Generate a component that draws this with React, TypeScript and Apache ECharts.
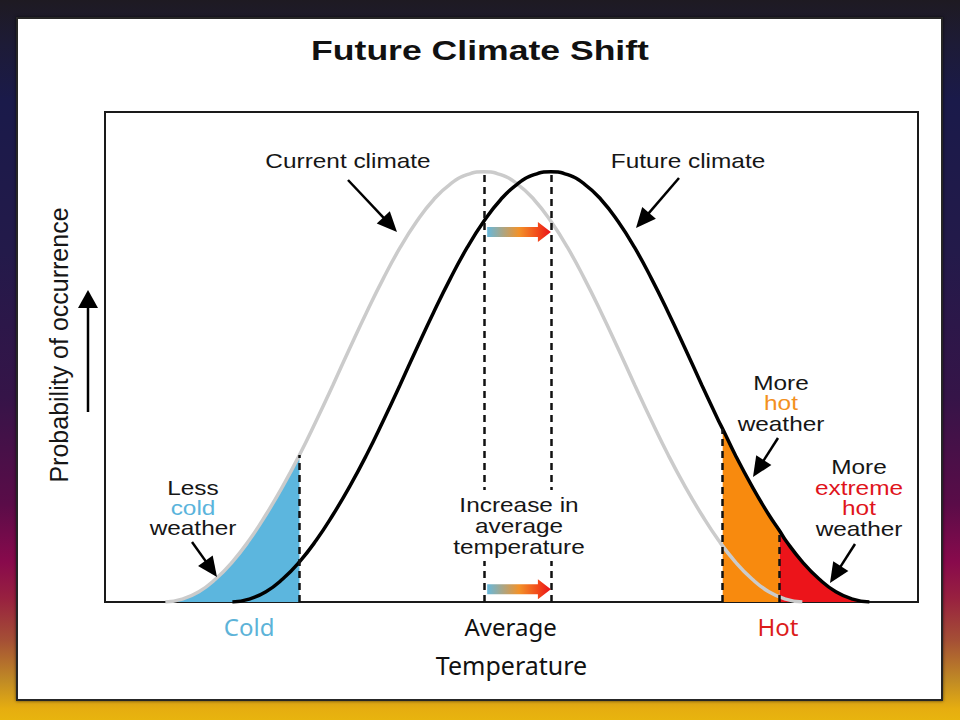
import React, { useEffect, useRef } from "react";
import * as echarts from "echarts";

// Current climate curve (grey)
const currentTemp = [-38, -36, -34, -32, -30, -28, -26, -24, -22, -20, -18, -16, -14, -12, -10, -8, -6, -4, -2, 0, 2, 4, 6, 8, 10, 12, 14, 16, 18, 20, 22, 24, 26, 28, 30, 32, 34, 36, 38];
const currentProb = [0, 0.6, 2.1, 4.7, 8.2, 12.6, 17.8, 23.6, 30.0, 37.0, 44.3, 51.8, 59.1, 66.0, 72.3, 77.7, 82.1, 85.3, 87.2, 87.8, 87.2, 85.3, 82.1, 77.7, 72.3, 66.0, 59.1, 51.8, 44.3, 37.0, 30.0, 23.6, 17.8, 12.6, 8.2, 4.7, 2.1, 0.6, 0];

// Future climate curve (black)
const futureTemp = [-30, -28, -26, -24, -22, -20, -18, -16, -14, -12, -10, -8, -6, -4, -2, 0, 2, 4, 6, 8, 10, 12, 14, 16, 18, 20, 22, 24, 26, 28, 28.5, 30, 32, 34, 35.3, 36, 38, 40, 42, 44, 46];
const futureProb = [0, 0.6, 2.1, 4.7, 8.2, 12.6, 17.8, 23.6, 30.0, 37.0, 44.3, 51.8, 59.1, 66.0, 72.3, 77.7, 82.1, 85.3, 87.2, 87.8, 87.2, 85.3, 82.1, 77.7, 72.3, 66.0, 59.1, 51.8, 44.3, 37.0, 35.3, 30.0, 23.6, 17.8, 14.5, 12.6, 8.2, 4.7, 2.1, 0.6, 0];

const coldLimit = -22;
const hotLimit = 28.5;
const extremeLimit = 35.3;
const currentMean = 0;
const futureMean = 8;
const shiftArrowLevels = [75.5, 2.6];
const shiftArrowStart = 0.4;

const tickValues = [-28, 3.2, 35.1];
const tickNames = ["Cold", "Average", "Hot"];
const tickStyles = ["cold", "avg", "hot"];

const pairs = (t: number[], p: number[]) => t.map((x, i) => [x, p[i]]);
const probAt = (t: number[], p: number[], x: number) => p[t.indexOf(x)];

const FONT = '"Liberation Sans", Arial, sans-serif';
const LABEL_FONT = '"Noto Sans", sans-serif';

function txt(text: string, x: number, y: number, color = "#161616", size = 20, weight = "normal", sx = 1.22) {
  return {
    type: "text",
    x,
    y,
    scaleX: sx,
    z: 100,
    silent: true,
    style: {
      text,
      fill: color,
      font: `${weight} ${size}px ${FONT}`,
      align: "center",
      verticalAlign: "middle",
    },
  };
}

function arrow(x1: number, y1: number, x2: number, y2: number, len = 20, hw = 9, lw = 2.5) {
  const dx = x2 - x1;
  const dy = y2 - y1;
  const L = Math.hypot(dx, dy);
  const ux = dx / L;
  const uy = dy / L;
  const bx = x2 - ux * len;
  const by = y2 - uy * len;
  const px = -uy;
  const py = ux;
  return [
    { type: "line", z: 100, silent: true, shape: { x1, y1, x2: bx + ux * 2, y2: by + uy * 2 }, style: { stroke: "#000", lineWidth: lw } },
    {
      type: "polygon",
      z: 100,
      silent: true,
      shape: { points: [[x2, y2], [bx + px * hw, by + py * hw], [bx - px * hw, by - py * hw]] },
      style: { fill: "#000" },
    },
  ];
}

function shiftArrow(x0: number, x1: number, y: number) {
  const hl = 13, sh = 5, hh = 10;
  return {
    type: "polygon",
    z: 100,
    silent: true,
    shape: {
      points: [[x0, y - sh], [x1 - hl, y - sh], [x1 - hl, y - hh], [x1, y], [x1 - hl, y + hh], [x1 - hl, y + sh], [x0, y + sh]],
    },
    style: {
      fill: {
        type: "linear", x: 0, y: 0, x2: 1, y2: 0,
        colorStops: [
          { offset: 0, color: "#66b8dc" },
          { offset: 0.5, color: "#f2922a" },
          { offset: 0.8, color: "#f2481a" },
          { offset: 1, color: "#e8101a" },
        ],
      },
    },
  };
}

const dashStyle = { color: "#111", width: 2.5, type: [7, 5] as any };

export default function App() {
  const ref = useRef<HTMLDivElement>(null);

  useEffect(() => {
    if (!ref.current) return;
    const chart = echarts.init(ref.current, undefined, { renderer: "svg" });

    const currentPts = pairs(currentTemp, currentProb);
    const futurePts = pairs(futureTemp, futureProb);
    const coldArea = currentPts.filter(([t]) => t <= coldLimit);
    const hotArea = futurePts.filter(([t]) => t >= hotLimit && t <= extremeLimit);
    const extremeArea = futurePts.filter(([t]) => t >= extremeLimit);

    const vline = (x: number, y: number) => [{ coord: [x, 0] }, { coord: [x, y] }];

    const option: any = {
      animation: false,
      grid: {
        left: 105,
        top: 112,
        width: 813,
        height: 490,
        show: true,
        borderColor: "#1a1a1a",
        borderWidth: 2,
        backgroundColor: "transparent",
      },
      xAxis: {
        type: "value",
        min: -45.2,
        max: 51.8,
        axisLine: { show: false },
        axisTick: { show: false },
        splitLine: { show: false },
        axisLabel: {
          customValues: tickValues,
          formatter: (v: number) => {
            const i = tickValues.indexOf(v);
            return i >= 0 ? `{${tickStyles[i]}|${tickNames[i]}}` : "";
          },
          rich: {
            cold: { color: "#5db3d8", fontSize: 24, fontFamily: LABEL_FONT },
            avg: { color: "#111111", fontSize: 24, fontFamily: LABEL_FONT },
            hot: { color: "#dc1c1c", fontSize: 24, fontFamily: LABEL_FONT },
          },
          fontSize: 24,
          fontFamily: LABEL_FONT,
          margin: 12,
        },
        name: "Temperature",
        nameLocation: "middle",
        nameGap: 50,
        nameTextStyle: { fontSize: 25, fontFamily: LABEL_FONT, color: "#111" },
      },
      yAxis: {
        type: "value",
        min: 0,
        max: 100,
        axisLine: { show: false },
        axisTick: { show: false },
        splitLine: { show: false },
        axisLabel: { show: false },
        name: "Probability of occurrence",
        nameLocation: "middle",
        nameGap: 34,
        nameTextStyle: { fontSize: 25, fontFamily: FONT, color: "#161616", padding: [0, 0, 0, 24] },
      },
      series: [
        {
          name: "Less cold weather",
          type: "line",
          smooth: true,
          symbol: "none",
          silent: true,
          z: 1,
          data: coldArea,
          lineStyle: { width: 0, opacity: 0 },
          areaStyle: { color: "#5cb6de", opacity: 1 },
        },
        {
          name: "More hot weather",
          type: "line",
          smooth: true,
          symbol: "none",
          silent: true,
          z: 1,
          data: hotArea,
          lineStyle: { width: 0, opacity: 0 },
          areaStyle: { color: "#f88a0e", opacity: 1 },
        },
        {
          name: "More extreme hot weather",
          type: "line",
          smooth: true,
          symbol: "none",
          silent: true,
          z: 1,
          data: extremeArea,
          lineStyle: { width: 0, opacity: 0 },
          areaStyle: { color: "#ec141a", opacity: 1 },
        },
        {
          name: "Current climate",
          type: "line",
          smooth: true,
          symbol: "none",
          silent: true,
          z: 3,
          data: currentPts,
          lineStyle: { color: "#cbcbcb", width: 3.5 },
          markLine: {
            silent: true,
            symbol: ["none", "none"],
            label: { show: false },
            lineStyle: dashStyle,
            data: [
              vline(coldLimit, probAt(currentTemp, currentProb, coldLimit)),
              vline(currentMean, probAt(currentTemp, currentProb, currentMean)),
            ],
          },
        },
        {
          name: "Future climate",
          type: "line",
          smooth: true,
          symbol: "none",
          silent: true,
          z: 4,
          data: futurePts,
          lineStyle: { color: "#000000", width: 3.5 },
          markLine: {
            silent: true,
            symbol: ["none", "none"],
            label: { show: false },
            lineStyle: dashStyle,
            data: [
              vline(hotLimit, probAt(futureTemp, futureProb, hotLimit)),
              vline(extremeLimit, probAt(futureTemp, futureProb, extremeLimit)),
              vline(futureMean, probAt(futureTemp, futureProb, futureMean)),
            ],
          },
        },
      ],
    };

    chart.setOption(option);

    const px = (x: number, y: number) => chart.convertToPixel({ gridIndex: 0 }, [x, y]) as number[];

    const elements: any[] = [];
    elements.push(txt("Future Climate Shift", 480, 50, "#111", 28, "bold", 1.27));

    shiftArrowLevels.forEach((lvl) => {
      const a = px(shiftArrowStart, lvl);
      const b = px(futureMean, lvl);
      elements.push(shiftArrow(a[0], b[0], a[1]));
    });

    elements.push({
      type: "rect",
      z: 90,
      silent: true,
      shape: { x: 452, y: 490, width: 138, height: 71 },
      style: { fill: "#ffffff" },
    });
    elements.push(txt("Increase in", 519, 505));
    elements.push(txt("average", 519, 526));
    elements.push(txt("temperature", 519, 547));

    elements.push(txt("Current climate", 348, 161));
    elements.push(...arrow(348, 180, 397, 232));
    elements.push(txt("Future climate", 688, 161));
    elements.push(...arrow(679, 178, 636, 228));

    elements.push(txt("Less", 193, 488));
    elements.push(txt("cold", 193, 508, "#5ab4dc"));
    elements.push(txt("weather", 193, 528));
    elements.push(...arrow(192, 542, 217, 577));

    elements.push(txt("More", 781, 383));
    elements.push(txt("hot", 781, 403, "#f39020"));
    elements.push(txt("weather", 781, 424));
    elements.push(...arrow(778, 438, 753, 477));

    elements.push(txt("More", 859, 467));
    elements.push(txt("extreme", 859, 488, "#e0141c"));
    elements.push(txt("hot", 859, 508, "#e0141c"));
    elements.push(txt("weather", 859, 529));
    elements.push(...arrow(855, 544, 830, 583));

    elements.push(...arrow(88, 412, 88, 290, 18, 10, 2.5));

    chart.setOption({ graphic: { elements } });

    return () => {
      chart.dispose();
    };
  }, []);

  return (
    <div
      style={{
        position: "fixed",
        left: 0,
        top: 0,
        width: 960,
        height: 720,
        overflow: "hidden",
        background:
          "linear-gradient(to bottom, #1e1a22 0%, #1d1b36 6%, #1a1a4a 14%, #231a4a 35%, #351448 55%, #5a0c48 70%, #880a4c 78%, #982040 83%, #a55035 89%, #c08a25 94.5%, #e6ae10 98.5%, #e8b40e 100%)",
      }}
    >
      <div
        style={{
          position: "absolute",
          left: 16,
          top: 17,
          width: 927,
          height: 684,
          boxSizing: "border-box",
          border: "2px solid #262626",
          background: "#ffffff",
          boxShadow: "0 0 3px rgba(0,0,0,0.6)",
        }}
      />
      <div ref={ref} style={{ position: "absolute", left: 0, top: 0, width: 960, height: 720 }} />
    </div>
  );
}
